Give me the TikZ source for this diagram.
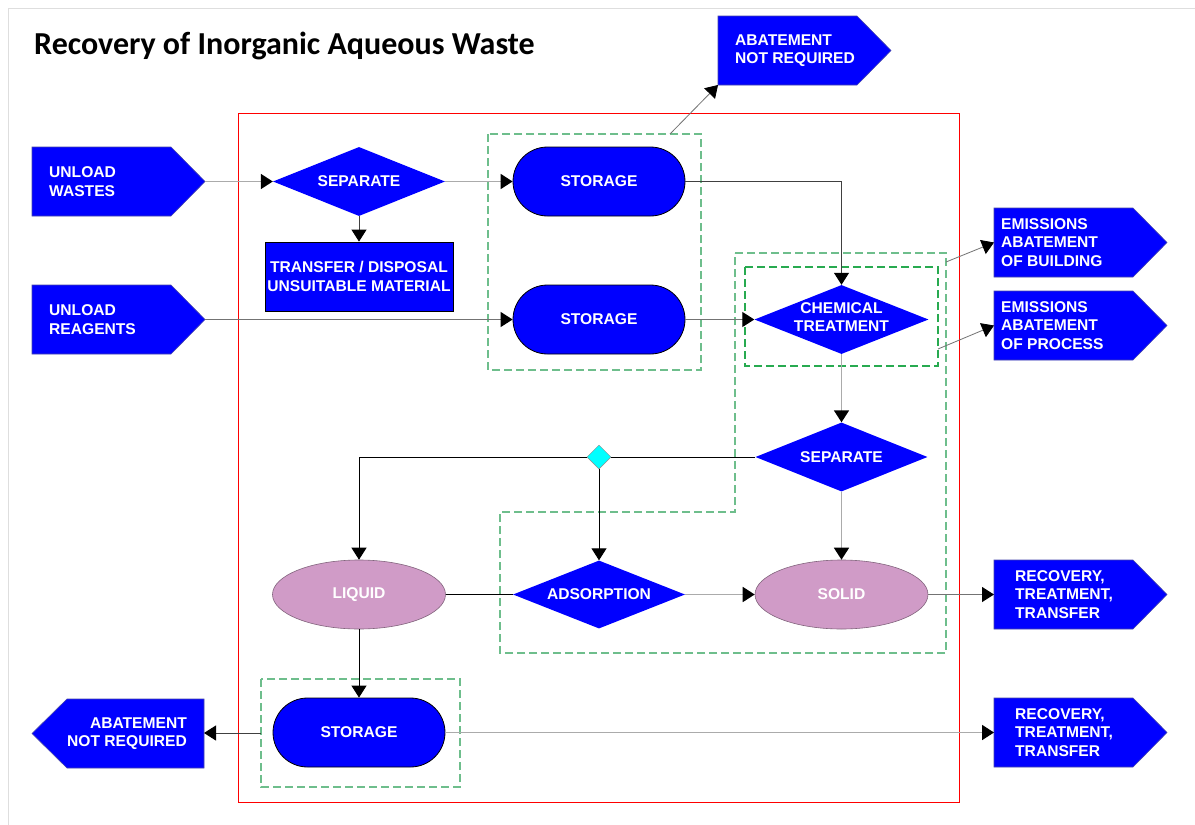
\documentclass[tikz,border=0pt]{standalone}
\usepackage{fontspec}
\setmainfont{Liberation Sans}
\newfontfamily\titlefont{Carlito}
\usetikzlibrary{shapes.geometric,shapes.misc,arrows.meta}

\definecolor{boxblue}{RGB}{0,0,255}
\definecolor{tagedge}{RGB}{70,70,170}
\definecolor{mauve}{RGB}{208,155,199}
\definecolor{mauveedge}{RGB}{130,100,125}
\definecolor{grpgreen}{RGB}{110,190,140}
\definecolor{grpgreen2}{RGB}{40,170,80}
\definecolor{framered}{RGB}{255,0,0}
\definecolor{pageline}{RGB}{222,222,222}
\definecolor{junccyan}{RGB}{0,255,255}

% right-pointing output tag: name, left x, top y, text x, text
\newcommand\tagright[5]{%
  \draw[tagshape] (#2,#3) -- ++(139,0) -- ++(34,34.5) -- ++(-34,34.5) -- ++(-139,0) -- cycle;
  \coordinate (#1-w) at (#2,#3+34.5);
  \coordinate (#1-sw) at (#2,#3+69);
  \coordinate (#1-tip) at (#2+173,#3+34.5);
  \node[tagtext, anchor=west] (#1) at (#4,#3+34.5) {#5};}

\begin{document}
\begin{tikzpicture}[x=1pt,y=-1pt,
  font=\fontsize{15.6}{18.3}\selectfont\bfseries,
  tagshape/.style={fill=boxblue, draw=tagedge, line width=0.6pt},
  tagtext/.style={text=white, inner sep=0pt, align=left},
  lbl/.style={text=white, inner sep=0pt, align=center},
  decision/.style={diamond, fill=boxblue, draw=none, minimum width=172pt, minimum height=69pt, inner sep=0pt},
  storebox/.style={rounded rectangle, fill=boxblue, draw=black, line width=0.8pt, minimum width=172pt, minimum height=69pt, inner sep=0pt, text=white},
  phase/.style={ellipse, fill=mauve, draw=mauveedge, line width=0.6pt, minimum width=173pt, minimum height=69pt, inner sep=0pt, text=white},
  junction/.style={diamond, fill=junccyan, draw=black!45, line width=0.5pt, minimum width=24pt, minimum height=24pt, inner sep=0pt},
  taskbox/.style={rectangle, fill=boxblue, draw=black, line width=0.8pt, minimum width=188pt, minimum height=69pt, inner sep=0pt, text=white, align=center},
  grp/.style={draw=grpgreen, dash pattern=on 8pt off 4pt, line width=1.1pt},
  head/.style={-{Triangle[length=12pt,width=15pt,color=black]}},
  lightflow/.style={head, draw=black!33, line width=1.8pt},
  midflow/.style={head, draw=black!55, line width=1.2pt},
  darkflow/.style={head, draw=black!75, line width=1pt},
  blackflow/.style={head, draw=black, line width=1pt},
  blackline/.style={draw=black, line width=1pt},
  thinflow/.style={head, draw=black!55, line width=0.8pt}]

\useasboundingbox (0,0) rectangle (1195,825);
\fill[white] (0,0) rectangle (1195,825);
\draw[pageline, line width=1.3pt] (8.5,825) -- (8.5,8.5) -- (1195,8.5);

\node[anchor=base west, inner sep=0pt, font=\titlefont\bfseries\fontsize{32}{36}\selectfont] (title) at (34,54) {Recovery of Inorganic Aqueous Waste};

% process boundary and groupings
\draw[framered, line width=1pt] (238,113) rectangle (959,802);
\draw[grp] (488,134) rectangle (701,370);
\draw[grp] (735,253) -- (946,253) -- (946,653) -- (500,653) -- (500,512) -- (735,512) -- cycle;
\draw[grp, draw=grpgreen2] (745,267) rectangle (938,366);
\draw[grp] (261,679) rectangle (460,787);
\coordinate (g1n) at (670,134);
\coordinate (g2e) at (946,262);
\coordinate (g3e) at (938,349);
\coordinate (g4w) at (261,733);

% inputs and outputs
\tagright{uw}{32}{147}{49}{UNLOAD\\WASTES}
\tagright{ur}{32}{285}{49}{UNLOAD\\REAGENTS}
\tagright{abt}{718}{16}{735}{ABATEMENT\\NOT REQUIRED}
\tagright{eb}{994}{208}{1001}{EMISSIONS\\ABATEMENT\\OF BUILDING}
\tagright{ep}{994}{291}{1001}{EMISSIONS\\ABATEMENT\\OF PROCESS}
\tagright{rec1}{994}{560}{1015}{RECOVERY,\\TREATMENT,\\TRANSFER}
\tagright{rec2}{994}{698}{1015}{RECOVERY,\\TREATMENT,\\TRANSFER}
\draw[tagshape] (204,699) -- (204,768) -- (67,768) -- (32,733.5) -- (67,699) -- cycle;
\coordinate (abl-e) at (204,733);
\node[tagtext, anchor=east, align=right] (abl) at (187,733.5) {ABATEMENT\\NOT REQUIRED};

% process steps
\node[decision] (sep1) at (359,181.5) {};
\node[lbl] (sep1-t) at (sep1) {SEPARATE};
\node[taskbox] (xfer) at (359,276.5) {TRANSFER / DISPOSAL\\UNSUITABLE MATERIAL};
\node[storebox] (stor1) at (599,181.5) {STORAGE};
\node[storebox] (stor2) at (599,319.5) {STORAGE};
\node[decision, minimum width=174pt] (chem) at (841.5,319.5) {};
\node[lbl] (chem-t) at (841.5,317) {CHEMICAL\\TREATMENT};
\node[decision] (sep2) at (841.5,457) {};
\node[lbl] (sep2-t) at (sep2) {SEPARATE};
\node[junction] (jn) at (599,457) {};
\node[phase] (liq) at (359,594.5) {LIQUID};
\node[decision, minimum height=68pt] (ads) at (599,594.5) {};
\node[lbl] (ads-t) at (ads) {ADSORPTION};
\node[phase] (sol) at (841.5,594.5) {SOLID};
\node[storebox] (stor3) at (359,732.5) {STORAGE};

% flows
\draw[lightflow] (uw-tip) -- (sep1.west);
\draw[lightflow] (sep1.east) -- (stor1.west);
\draw[darkflow] (sep1.south) -- (xfer.north);
\draw[midflow] (ur-tip) -- (stor2.west);
\draw[darkflow] (stor1.east) -| (chem.north);
\draw[midflow] (stor2.east) -- (chem.west);
\draw[lightflow] (chem.south) -- (sep2.north);
\draw[blackline] (sep2.west) -- (jn.east);
\draw[blackflow] (jn.west) -| (liq.north);
\draw[blackflow] (jn.south) -- (ads.north);
\draw[lightflow] (sep2.south) -- (sol.north);
\draw[blackline] (liq.east) -- (ads.west);
\draw[lightflow] (ads.east) -- (sol.west);
\draw[midflow] (sol.east) -- (rec1-w);
\draw[blackflow] (liq.south) -- (stor3.north);
\draw[lightflow] (stor3.east) -- (rec2-w);
\draw[darkflow] (g4w) -- (abl-e);
\draw[thinflow] (g1n) -- (abt-sw);
\draw[thinflow] (g2e) -- (eb-w);
\draw[thinflow] (g3e) -- (ep-w);
\end{tikzpicture}
\end{document}
